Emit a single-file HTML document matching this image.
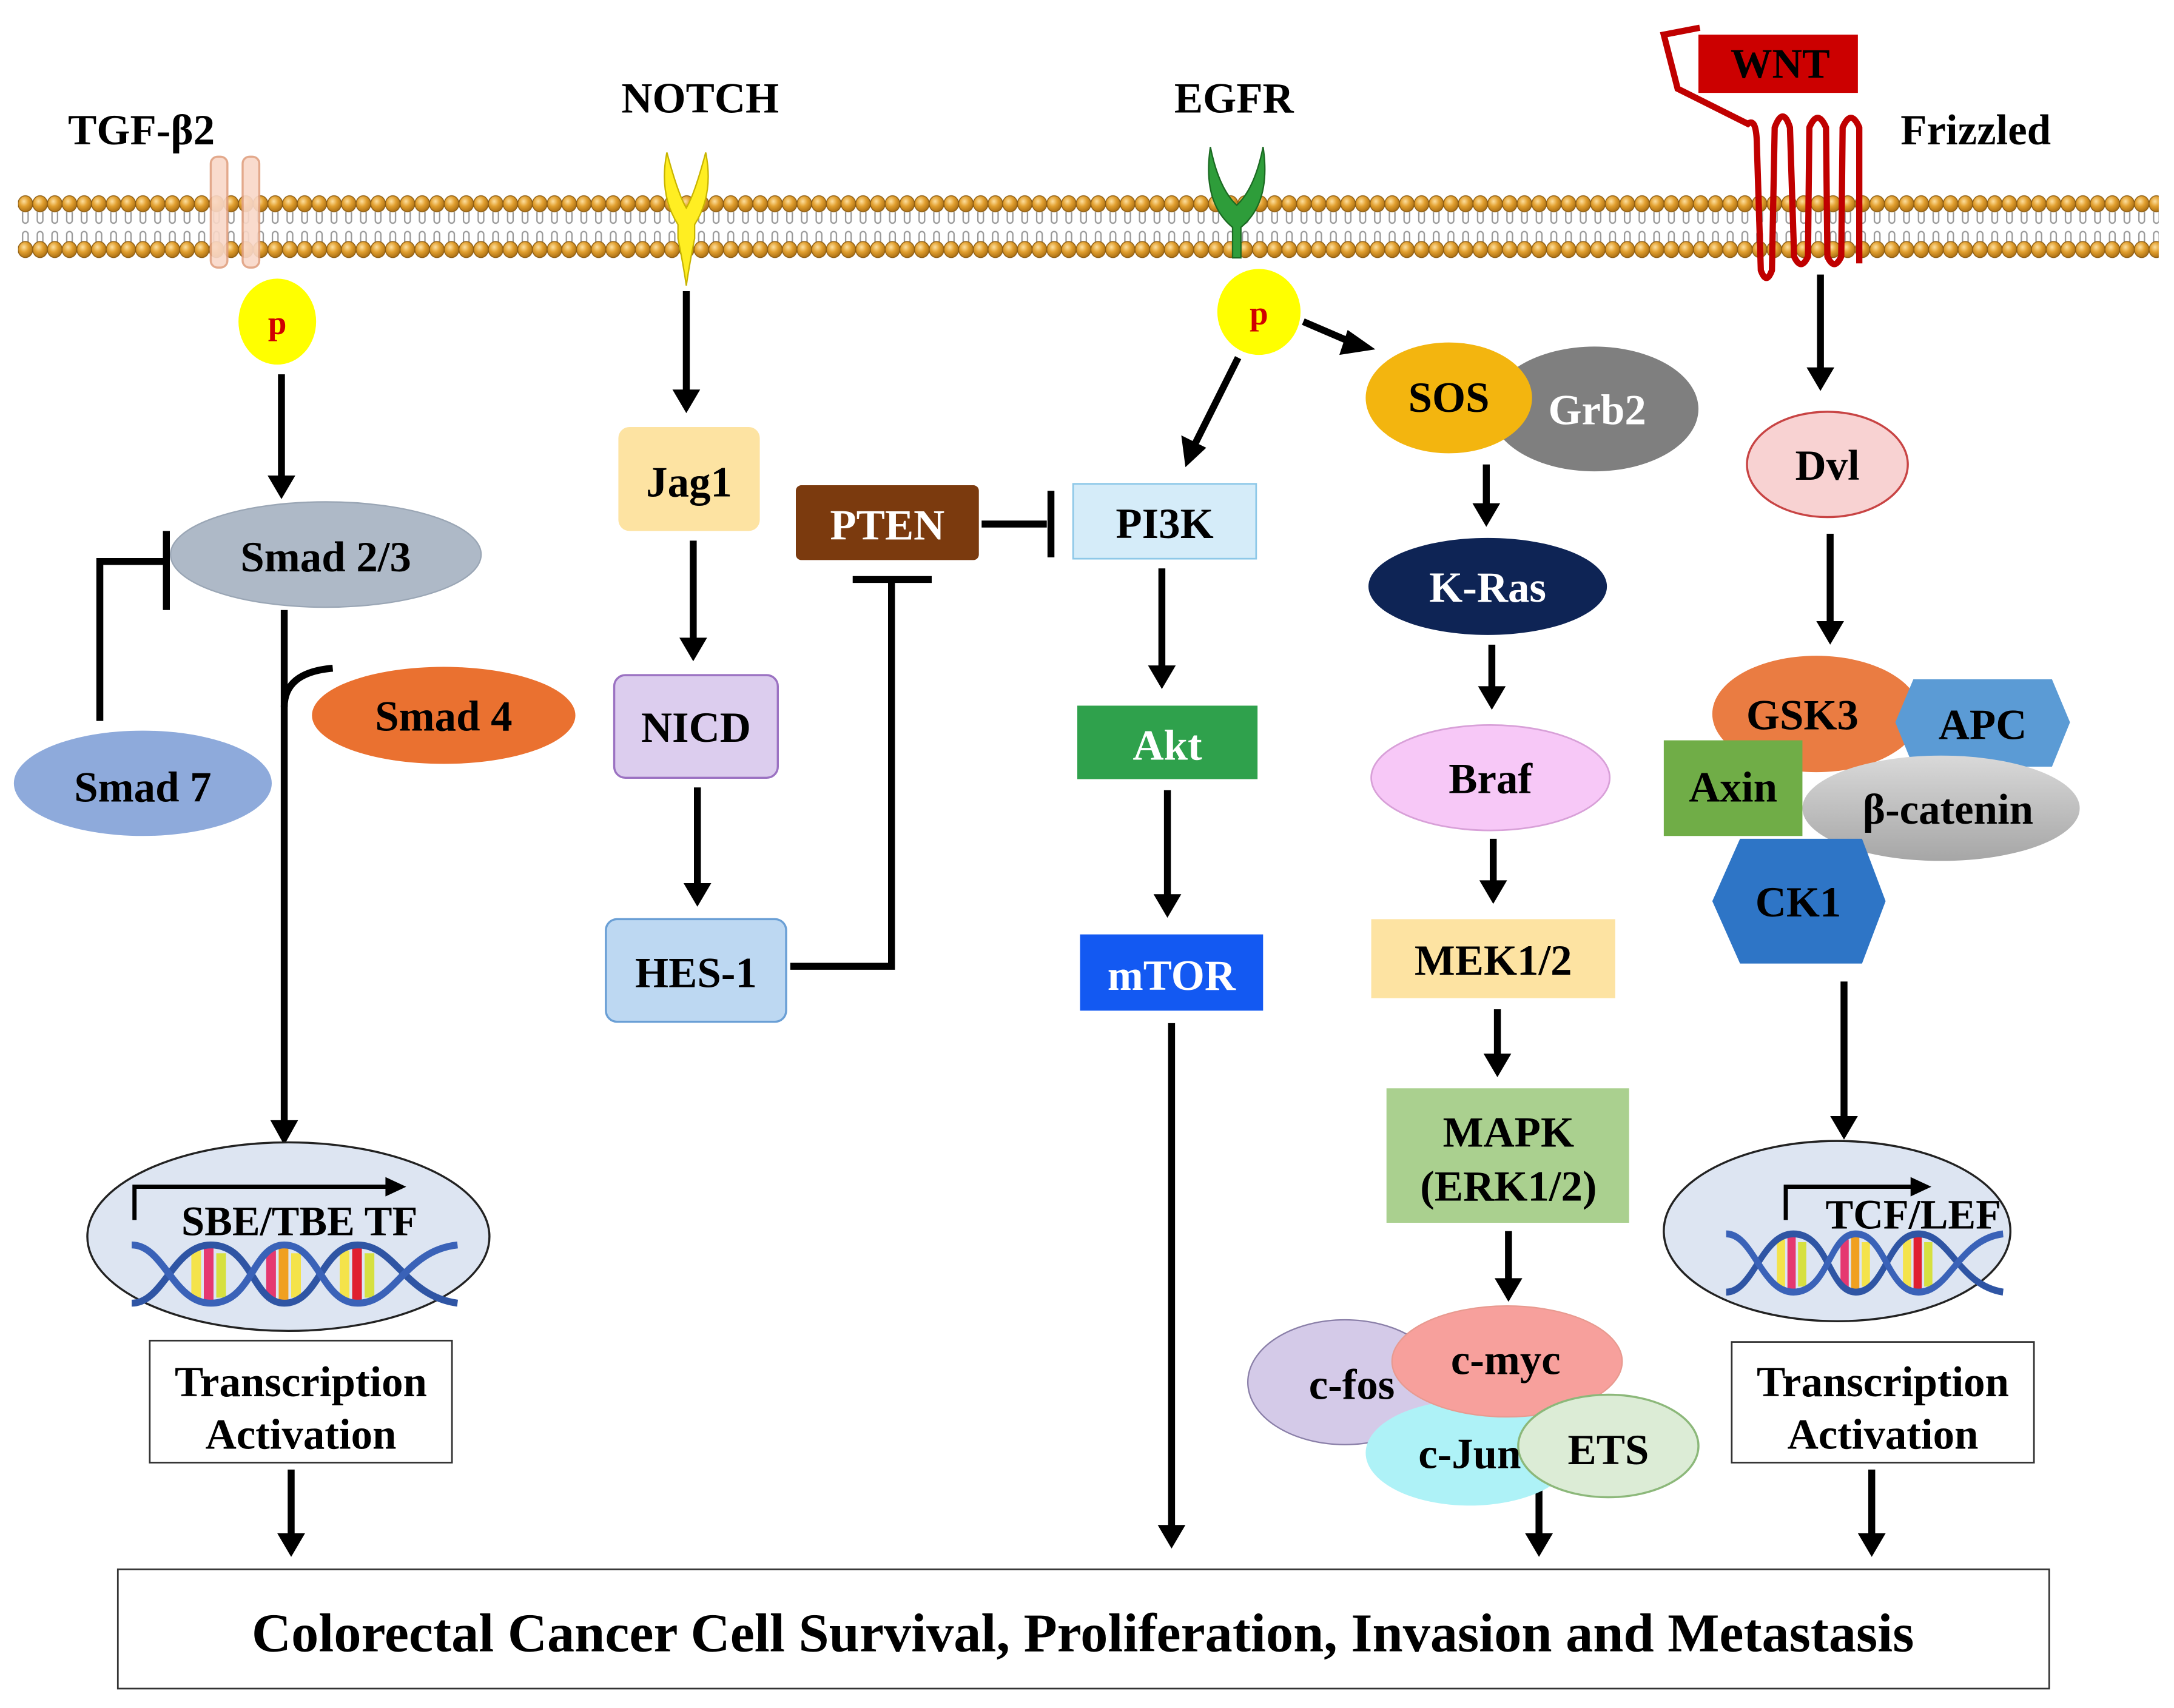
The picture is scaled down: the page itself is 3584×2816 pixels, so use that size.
<!DOCTYPE html>
<html><head><meta charset="utf-8"><style>
html,body{margin:0;padding:0;background:#fff;}
svg{display:block;}
text{font-family:"Liberation Serif",serif;font-weight:bold;text-anchor:middle;dominant-baseline:central;}
</style></head><body>
<svg width="3584" height="2816" viewBox="0 0 1568 1232" xmlns="http://www.w3.org/2000/svg">
<defs>
<radialGradient id="head" cx="0.4" cy="0.35" r="0.7"><stop offset="0" stop-color="#fde0a0"/><stop offset="0.45" stop-color="#e2a030"/><stop offset="1" stop-color="#a56a10"/></radialGradient>
<pattern id="mem" x="13" y="0" width="10.6" height="200" patternUnits="userSpaceOnUse">
<path d="M3.3 153 v6 a2 2 0 0 0 4 0 v-6 M3.3 175 v-6 a2 2 0 0 1 4 0 v6" stroke="#999" stroke-width="1" fill="none"/>
<ellipse cx="5.3" cy="147" rx="5.3" ry="5.8" fill="url(#head)" stroke="#8a5a10" stroke-width="0.6"/>
<ellipse cx="5.3" cy="180" rx="5.3" ry="5.8" fill="url(#head)" stroke="#8a5a10" stroke-width="0.6"/>
</pattern>
<linearGradient id="bcat" x1="0" y1="0" x2="0" y2="1"><stop offset="0" stop-color="#d9d9d9"/><stop offset="1" stop-color="#a6a6a6"/></linearGradient>
<g id="dna">
<rect x="138" y="902" width="7" height="36" fill="#f4e34a"/><rect x="147" y="900" width="7" height="40" fill="#e53870"/><rect x="156" y="904" width="7" height="32" fill="#d6e040"/>
<rect x="192" y="902" width="7" height="36" fill="#e53870"/><rect x="201" y="900" width="7" height="40" fill="#f0a020"/><rect x="210" y="904" width="7" height="32" fill="#f4e34a"/>
<rect x="245" y="902" width="7" height="36" fill="#f4e34a"/><rect x="254" y="900" width="7" height="40" fill="#e02030"/><rect x="263" y="904" width="7" height="32" fill="#d6e040"/>
<path d="M95 940 C118 940,125 898,152 898 C182 898,182 940,205 940 C230 940,232 898,258 898 C285 898,292 935,330 940" stroke="#2f55a4" stroke-width="5" fill="none"/>
<path d="M95 898 C118 898,125 940,152 940 C182 940,182 898,205 898 C230 898,232 940,258 940 C285 940,292 902,330 898" stroke="#3a62b8" stroke-width="5" fill="none"/>
</g>
</defs>
<!-- membrane -->
<rect x="13" y="138" width="1544" height="52" fill="url(#mem)"/>

<!-- TGF -->
<text x="102" y="94" font-size="31">TGF-β2</text>
<rect x="152" y="113" width="12" height="80" rx="5" fill="#f9d8c8" stroke="#e0a080" stroke-width="1.5" opacity="0.9"/>
<rect x="175" y="113" width="12" height="80" rx="5" fill="#f9d8c8" stroke="#e0a080" stroke-width="1.5" opacity="0.9"/>
<ellipse cx="200" cy="232" rx="28" ry="31" fill="#ffff00"/>
<text x="200" y="233" font-size="24" fill="#d00000">p</text>

<!-- NOTCH -->
<text x="505" y="71" font-size="31">NOTCH</text>
<path d="M481 110 q-6 30 8 52 l0 10 q4 20 6 34 q2 -14 6 -34 l0 -10 q14 -22 8 -52 q-8 30 -14 40 q-6 -10 -14 -40z" fill="#ffee22" stroke="#c8b400" stroke-width="1"/>

<!-- EGFR -->
<text x="890" y="71" font-size="31">EGFR</text>
<path d="M873 106 q-6 40 16 58 l0 22 l6 0 l0 -22 q22 -18 16 -58 q-6 30 -19 42 q-13 -12 -19 -42z" fill="#2e9d3a" stroke="#1b6a22" stroke-width="1"/>
<ellipse cx="908" cy="225" rx="30" ry="31" fill="#ffff00"/>
<text x="908" y="226" font-size="24" fill="#d00000">p</text>

<!-- WNT / Frizzled -->
<path d="M1226 20 L1200 25 L1210 64 L1262 90" stroke="#c00000" stroke-width="4.5" fill="none"/>
<rect x="1225" y="25" width="115" height="42" fill="#cc0000"/>
<text x="1284" y="46" font-size="30">WNT</text>
<path d="M1260 90 Q1266 84 1267 100 L1270 195 Q1274 206 1278 195 L1280 92 Q1286 76 1291 92 L1294 185 Q1299 196 1304 185 L1305 92 Q1311 78 1317 92 L1318 185 Q1323 196 1328 185 L1329 92 Q1335 78 1341 92 L1341 190" stroke="#c00000" stroke-width="4.5" fill="none" stroke-linejoin="round"/>
<text x="1425" y="94" font-size="31">Frizzled</text>

<!-- connectors -->
<g stroke="#000" stroke-width="5" fill="none">
<line x1="203" y1="270" x2="203" y2="345"/>
<line x1="205" y1="440" x2="205" y2="810"/>
<path d="M205 510 q0 -25 35 -28"/>
<path d="M72 520 V405 H118"/>
<line x1="120" y1="383" x2="120" y2="440"/>
<line x1="495" y1="210" x2="495" y2="283"/>
<line x1="500" y1="390" x2="500" y2="462"/>
<line x1="503" y1="568" x2="503" y2="639"/>
<path d="M570 697 H643 V420"/>
<line x1="615" y1="418" x2="672" y2="418"/>
<line x1="708" y1="378" x2="755" y2="378"/>
<line x1="758" y1="354" x2="758" y2="402"/>
<line x1="893" y1="258" x2="862" y2="320"/>
<line x1="940" y1="232" x2="975" y2="247"/>
<line x1="838" y1="410" x2="838" y2="482"/>
<line x1="842" y1="570" x2="842" y2="647"/>
<line x1="845" y1="738" x2="845" y2="1102"/>
<line x1="1072" y1="335" x2="1072" y2="365"/>
<line x1="1076" y1="465" x2="1076" y2="497"/>
<line x1="1077" y1="605" x2="1077" y2="637"/>
<line x1="1080" y1="728" x2="1080" y2="762"/>
<line x1="1088" y1="888" x2="1088" y2="924"/>
<line x1="1110" y1="1075" x2="1110" y2="1108"/>
<line x1="1313" y1="198" x2="1313" y2="267"/>
<line x1="1320" y1="385" x2="1320" y2="450"/>
<line x1="1330" y1="708" x2="1330" y2="807"/>
<line x1="210" y1="1060" x2="210" y2="1108"/>
<line x1="1350" y1="1060" x2="1350" y2="1108"/>
</g>
<g fill="#000">
<polygon points="193,343 213,343 203,360"/>
<polygon points="195,808 215,808 205,826"/>
<polygon points="485,281 505,281 495,298"/>
<polygon points="490,460 510,460 500,477"/>
<polygon points="493,637 513,637 503,654"/>
<polygon points="852,314 870,323 855,337"/>
<polygon points="972,238 966,256 992,252"/>
<polygon points="828,480 848,480 838,497"/>
<polygon points="832,645 852,645 842,662"/>
<polygon points="835,1100 855,1100 845,1117"/>
<polygon points="1062,363 1082,363 1072,380"/>
<polygon points="1066,495 1086,495 1076,512"/>
<polygon points="1067,635 1087,635 1077,652"/>
<polygon points="1070,760 1090,760 1080,777"/>
<polygon points="1078,922 1098,922 1088,939"/>
<polygon points="1100,1106 1120,1106 1110,1123"/>
<polygon points="1303,265 1323,265 1313,282"/>
<polygon points="1310,448 1330,448 1320,465"/>
<polygon points="1320,805 1340,805 1330,822"/>
<polygon points="200,1106 220,1106 210,1123"/>
<polygon points="1340,1106 1360,1106 1350,1123"/>
</g>

<!-- TGF nodes -->
<ellipse cx="235" cy="400" rx="112" ry="38" fill="#aeb9c7" stroke="#9aa6b5"/>
<text x="235" y="402" font-size="31">Smad 2/3</text>
<ellipse cx="103" cy="565" rx="93" ry="38" fill="#8eaadb"/>
<text x="103" y="568" font-size="31">Smad 7</text>
<ellipse cx="320" cy="516" rx="95" ry="35" fill="#ea7130"/>
<text x="320" y="517" font-size="31">Smad 4</text>

<!-- DNA ellipse left -->
<ellipse cx="208" cy="892" rx="145" ry="68" fill="#dde5f2" stroke="#222" stroke-width="1.5"/>
<path d="M97 880 V856 H280" stroke="#000" stroke-width="3" fill="none"/>
<polygon points="278,849 293,856 278,863" fill="#000"/>
<text x="216" y="881" font-size="30">SBE/TBE TF</text>
<use href="#dna"/>
<rect x="108" y="967" width="218" height="88" fill="#fff" stroke="#333" stroke-width="1.2"/>
<text x="217" y="997" font-size="31">Transcription</text>
<text x="217" y="1035" font-size="31">Activation</text>

<!-- NOTCH nodes -->
<rect x="446" y="308" width="102" height="75" rx="8" fill="#fde3a2"/>
<text x="497" y="348" font-size="31">Jag1</text>
<rect x="443" y="487" width="118" height="74" rx="8" fill="#dccdee" stroke="#9b72c2" stroke-width="1.5"/>
<text x="502" y="525" font-size="31">NICD</text>
<rect x="437" y="663" width="130" height="74" rx="8" fill="#bdd8f2" stroke="#6a9fd5" stroke-width="1.5"/>
<text x="502" y="702" font-size="31">HES-1</text>
<rect x="574" y="350" width="132" height="54" rx="4" fill="#7b3a0e"/>
<text x="640" y="379" font-size="31" fill="#fff">PTEN</text>

<!-- PI3K path -->
<rect x="774" y="349" width="132" height="54" fill="#d5ecf9" stroke="#8ec8e8" stroke-width="1.2"/>
<text x="840" y="378" font-size="31">PI3K</text>
<rect x="777" y="509" width="130" height="53" fill="#2fa14c"/>
<text x="842" y="538" font-size="31" fill="#fff">Akt</text>
<rect x="779" y="674" width="132" height="55" fill="#1359f2"/>
<text x="845" y="704" font-size="31" fill="#fff">mTOR</text>

<!-- MAPK path -->
<ellipse cx="1150" cy="295" rx="75" ry="45" fill="#7f7f7f"/>
<text x="1152" y="296" font-size="31" fill="#fff">Grb2</text>
<ellipse cx="1045" cy="287" rx="60" ry="40" fill="#f3b50f"/>
<text x="1045" y="287" font-size="31">SOS</text>
<ellipse cx="1073" cy="423" rx="86" ry="35" fill="#0e2455"/>
<text x="1073" y="424" font-size="31" fill="#fff">K-Ras</text>
<ellipse cx="1075" cy="561" rx="86" ry="38" fill="#f7c8f7" stroke="#d8a0d8" stroke-width="1.2"/>
<text x="1075" y="562" font-size="31">Braf</text>
<rect x="989" y="663" width="176" height="57" fill="#fde3a2"/>
<text x="1077" y="693" font-size="31">MEK1/2</text>
<rect x="1000" y="785" width="175" height="97" fill="#aad08f"/>
<text x="1088" y="817" font-size="31">MAPK</text>
<text x="1088" y="856" font-size="31">(ERK1/2)</text>

<ellipse cx="970" cy="997" rx="70" ry="45" fill="#d4cae8" stroke="#8a7fa8" stroke-width="1"/>
<ellipse cx="1060" cy="1048" rx="75" ry="38" fill="#aef2f7"/>
<ellipse cx="1087" cy="982" rx="83" ry="40" fill="#f7a09c" stroke="#e89a90" stroke-width="1"/>
<ellipse cx="1160" cy="1043" rx="65" ry="37" fill="#dcecd6" stroke="#8cb87a" stroke-width="1.5"/>
<text x="975" y="999" font-size="31">c-fos</text>
<text x="1086" y="981" font-size="31">c-myc</text>
<text x="1060" y="1049" font-size="31">c-Jun</text>
<text x="1160" y="1046" font-size="31">ETS</text>

<!-- WNT path -->
<ellipse cx="1318" cy="335" rx="58" ry="38" fill="#f8d2d2" stroke="#c84444" stroke-width="1.5"/>
<text x="1318" y="336" font-size="31">Dvl</text>
<ellipse cx="1310" cy="515" rx="75" ry="42" fill="#ea7c42"/>
<text x="1300" y="516" font-size="31">GSK3</text>
<polygon points="1380,490 1480,490 1493,521 1480,553 1380,553 1367,521" fill="#5b9bd5"/>
<text x="1430" y="523" font-size="31">APC</text>
<ellipse cx="1400" cy="583" rx="100" ry="38" fill="url(#bcat)"/>
<text x="1405" y="584" font-size="31">β-catenin</text>
<rect x="1200" y="534" width="100" height="69" fill="#70ad47"/>
<text x="1250" y="568" font-size="31">Axin</text>
<polygon points="1255,605 1343,605 1360,650 1343,695 1255,695 1235,650" fill="#2e75c6"/>
<text x="1297" y="651" font-size="31">CK1</text>

<ellipse cx="1325" cy="888" rx="125" ry="65" fill="#dde5f2" stroke="#222" stroke-width="1.5"/>
<path d="M1288 880 V856 H1380" stroke="#000" stroke-width="3" fill="none"/>
<polygon points="1378,849 1393,856 1378,863" fill="#000"/>
<text x="1380" y="876" font-size="30">TCF/LEF</text>
<use href="#dna" transform="translate(1245,-8) scale(0.85,1) translate(-95,0)"/>
<rect x="1249" y="968" width="218" height="87" fill="#fff" stroke="#333" stroke-width="1.2"/>
<text x="1358" y="997" font-size="31">Transcription</text>
<text x="1358" y="1035" font-size="31">Activation</text>

<!-- bottom -->
<rect x="85" y="1132" width="1393" height="86" fill="#fff" stroke="#333" stroke-width="1.2"/>
<text x="781" y="1178" font-size="39.5">Colorectal Cancer Cell Survival, Proliferation, Invasion and Metastasis</text>
</svg>
</body></html>
